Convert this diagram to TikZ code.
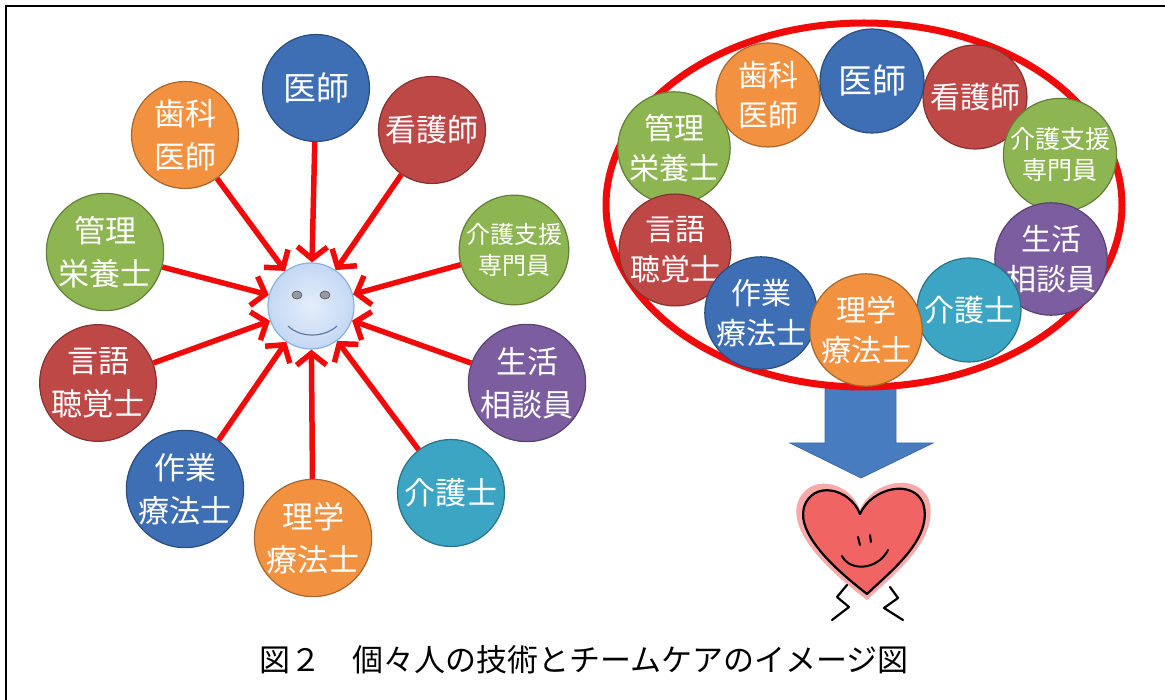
\documentclass[tikz,border=0pt]{standalone}
\usepackage{fontspec}
\newfontfamily\jp{Noto Sans CJK JP}
\usetikzlibrary{arrows.meta}
\definecolor{dblue}{RGB}{62,110,180}
\definecolor{dred}{RGB}{190,72,70}
\definecolor{dgreen}{RGB}{141,181,82}
\definecolor{dpurple}{RGB}{124,94,160}
\definecolor{dteal}{RGB}{60,165,195}
\definecolor{dorange}{RGB}{242,146,64}
\definecolor{facefill}{RGB}{196,216,244}
\definecolor{faceline}{RGB}{140,176,226}
\definecolor{spokered}{RGB}{240,10,10}
\definecolor{arrowblue}{RGB}{72,124,192}
\definecolor{heartred}{RGB}{240,100,100}
\definecolor{heartglow}{RGB}{248,170,170}
\tikzstyle{member}=[circle, minimum size=107pt, inner sep=0pt, line width=1.2pt, text=white, align=center, font=\jp\fontsize{31}{43}\selectfont]
\tikzstyle{rmember}=[member, minimum size=104pt, font=\jp\fontsize{30}{40}\selectfont]
\tikzstyle{longname}=[font=\jp\fontsize{24}{31}\selectfont]
\tikzstyle{bluedisc}=[fill=dblue, draw=dblue!70!black]
\tikzstyle{reddisc}=[fill=dred, draw=dred!70!black]
\tikzstyle{greendisc}=[fill=dgreen, draw=dgreen!70!black]
\tikzstyle{purpledisc}=[fill=dpurple, draw=dpurple!70!black]
\tikzstyle{tealdisc}=[fill=dteal, draw=dteal!70!black]
\tikzstyle{orangedisc}=[fill=dorange, draw=dorange!70!black]
\tikzstyle{spoke}=[draw=spokered, line width=5.5pt, -{Straight Barb[length=12pt,width=30pt]}]

\begin{document}
\begin{tikzpicture}[x=1pt, y=-1pt]
\useasboundingbox (0,0) rectangle (1165,700);
\draw[line width=2pt] (6,700) -- (6,6) -- (1165,6);%frame

%% each one on his own
\node[circle, minimum size=86pt, inner color=white!55!facefill, outer color=facefill, draw=faceline, line width=1.2pt] (face) at (311,306) {};
\fill[gray!70!facefill, draw=gray!60!black, line width=0.6pt] (297,295) ellipse (5 and 4);%eyes
\fill[gray!70!facefill, draw=gray!60!black, line width=0.6pt] (325,295) ellipse (5 and 4);
\draw[faceline!70!black, line width=1.2pt] (288,326) .. controls (300,338) and (324,338) .. (337,326);%smile

\node[member, bluedisc, font=\jp\fontsize{33}{43}\selectfont] (ishi) at (316,88) {医師};
\node[member, orangedisc] (shika) at (185,135) {歯科\\医師};
\node[member, reddisc] (kango) at (432,130) {看護師};
\node[member, greendisc, longname] (shien) at (514,250) {介護支援\\専門員};
\node[member, purpledisc] (seikatsu) at (527,383) {生活\\相談員};
\node[member, tealdisc] (kaigo) at (451,493) {介護士};
\node[member, orangedisc] (rigaku) at (313,538) {理学\\療法士};
\node[member, bluedisc] (sagyo) at (185,489) {作業\\療法士};
\node[member, reddisc] (gengo) at (98,383) {言語\\聴覚士};
\node[member, greendisc] (kanri) at (105,252) {管理\\栄養士};

\foreach \who in {ishi,shika,kango,shien,seikatsu,kaigo,rigaku,sagyo,gengo,kanri}
  \draw[spoke] (\who) -- (face);

%% the team
\draw[arrowblue!85!black, fill=arrowblue, line width=0.8pt] (825,386) -- (896,386) -- (896,443) -- (933,443) -- (861,478) -- (790,443) -- (825,443) -- cycle;%down arrow
\draw[spokered, line width=7pt] (864,205) ellipse (258 and 182);%ring

\node[rmember, greendisc] (rkanri) at (674,148) {管理\\栄養士};
\node[rmember, orangedisc] (rshika) at (768,95) {歯科\\医師};
\node[rmember, reddisc] (rkango) at (975,97) {看護師};
\node[rmember, bluedisc, font=\jp\fontsize{34}{40}\selectfont] (rishi) at (872,81) {医師};
\node[rmember, greendisc, font=\jp\fontsize{25}{31}\selectfont] (rshien) at (1060,155) {介護支援\\専門員};
\node[rmember, purpledisc] (rseikatsu) at (1051,259) {生活\\相談員};
\node[rmember, reddisc] (rgengo) at (675,250) {言語\\聴覚士};
\node[rmember, bluedisc] (rsagyo) at (761,313) {作業\\療法士};
\node[rmember, tealdisc] (rkaigo) at (969,310) {介護士};
\node[rmember, orangedisc] (rrigaku) at (866,330) {理学\\療法士};

%% heart
\fill[heartglow] (860,510) .. controls (850,480) and (806,472) .. (797,505) .. controls (790,538) and (838,578) .. (867,600) .. controls (893,575) and (940,540) .. (929,500) .. controls (918,472) and (872,480) .. (860,510) -- cycle;
\draw[fill=heartred, line width=2.2pt, line join=round] (860,514) .. controls (850,488) and (813,480) .. (804,507) .. controls (796,536) and (840,573) .. (867,594) .. controls (891,571) and (934,538) .. (923,503) .. controls (913,479) and (872,487) .. (860,514) -- cycle;
\draw[line width=2pt, line cap=round] (858,537) -- (860,545);%eyes
\draw[line width=2pt, line cap=round] (870,535) -- (871,542);
\draw[line width=2pt, line cap=round] (842,556) .. controls (850,572) and (878,570) .. (888,550);%smile
\draw[line width=2.2pt, line cap=round, line join=round] (847,585) -- (837,597) -- (849,607) -- (832,620);%legs
\draw[line width=2.2pt, line cap=round, line join=round] (890,587) -- (898,598) -- (884,608) -- (903,620);

\node[font=\jp\fontsize{31}{31}\selectfont] (caption) at (584,660) {図２　個々人の技術とチームケアのイメージ図};
\end{tikzpicture}
\end{document}
